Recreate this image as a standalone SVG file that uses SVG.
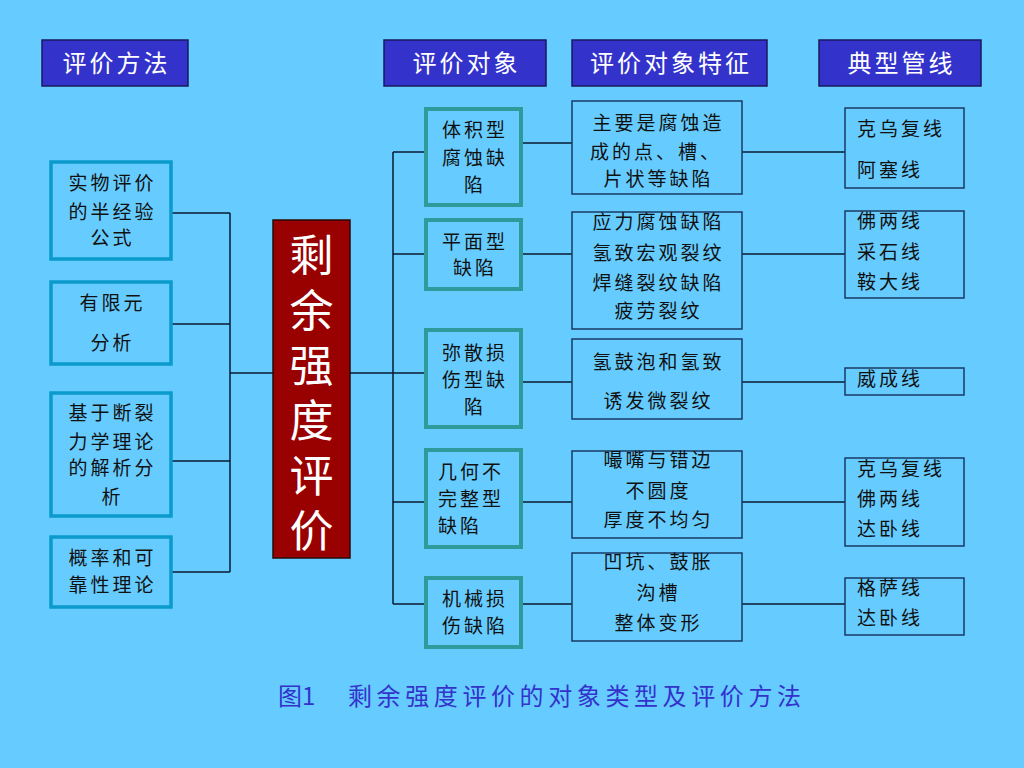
<svg xmlns="http://www.w3.org/2000/svg" width="1024" height="768" viewBox="0 0 1024 768">
<style>
text{font-family:"Noto Sans CJK SC","Noto Sans CJK JP",sans-serif;}
.hdr rect{fill:#3333CC;stroke:#1a1a5e;stroke-width:1.5;}
.hdr text{fill:#fff;font-size:24px;letter-spacing:3px;text-anchor:middle;}
.meth rect{fill:#66CCFF;stroke:#0a9bcc;stroke-width:3.5;}
.obj rect{fill:#66CCFF;stroke:#2f9a9a;stroke-width:4;}
.feat rect,.pipe rect{fill:#66CCFF;stroke:#1a3a66;stroke-width:1.5;}
.n text{fill:#111;font-size:19px;letter-spacing:3px;}
.c{text-anchor:middle;}
#conn path{fill:none;stroke:#0a1a33;stroke-width:1.5;}
</style>
<rect x="0" y="0" width="1024" height="768" fill="#66CCFF"/>

<g id="h1" class="hdr"><rect x="42" y="40" width="146" height="46"/><text x="116.5" y="72">评价方法</text></g>
<g id="h2" class="hdr"><rect x="384" y="40" width="162" height="46"/><text x="466.5" y="72">评价对象</text></g>
<g id="h3" class="hdr"><rect x="572" y="40" width="195" height="46"/><text x="671" y="72">评价对象特征</text></g>
<g id="h4" class="hdr"><rect x="819" y="40" width="162" height="46"/><text x="901.5" y="72">典型管线</text></g>

<g id="conn">
<path d="M171 213H230M171 324H230M171 461H230M171 572H230M230 213V572M230 373H273"/>
<path d="M350 373H393M393 152V604M393 152H426M393 254H426M393 373H426M393 502H426M393 604H426"/>
<path d="M521 143H572M521 254H572M521 382H572M521 502H572M521 604H572"/>
<path d="M742 152H845M742 254H845M742 382H845M742 502H845M742 604H845"/>
</g>

<g id="m1" class="n meth"><rect x="51" y="162" width="120" height="97"/>
<text class="c" x="112.5" y="190">实物评价</text><text class="c" x="112.5" y="219">的半经验</text><text class="c" x="112.5" y="245">公式</text></g>
<g id="m2" class="n meth"><rect x="51" y="282" width="120" height="82"/>
<text class="c" x="112.5" y="310">有限元</text><text class="c" x="112.5" y="350">分析</text></g>
<g id="m3" class="n meth"><rect x="51" y="393" width="120" height="123"/>
<text class="c" x="112.5" y="420">基于断裂</text><text class="c" x="112.5" y="449">力学理论</text><text class="c" x="112.5" y="475">的解析分</text><text class="c" x="112.5" y="504">析</text></g>
<g id="m4" class="n meth"><rect x="51" y="537" width="120" height="70"/>
<text class="c" x="112.5" y="565">概率和可</text><text class="c" x="112.5" y="592">靠性理论</text></g>

<g id="center"><rect x="273" y="220" width="77" height="338" fill="#990000" stroke="#2a0a0a" stroke-width="1.5"/>
<text x="311.5" y="233" fill="#fff" font-size="44" letter-spacing="11" writing-mode="vertical-rl">剩余强度评价</text></g>

<g id="o1" class="n obj"><rect x="426" y="109" width="95" height="96"/>
<text class="c" x="475" y="137">体积型</text><text class="c" x="475" y="165">腐蚀缺</text><text class="c" x="475" y="192">陷</text></g>
<g id="o2" class="n obj"><rect x="426" y="220" width="95" height="69"/>
<text class="c" x="475" y="249">平面型</text><text class="c" x="475" y="275">缺陷</text></g>
<g id="o3" class="n obj"><rect x="426" y="330" width="95" height="97"/>
<text class="c" x="475" y="360">弥散损</text><text class="c" x="475" y="387">伤型缺</text><text class="c" x="475" y="414">陷</text></g>
<g id="o4" class="n obj"><rect x="426" y="450" width="95" height="97"/>
<text x="438" y="479">几何不</text><text x="438" y="506">完整型</text><text x="438" y="533">缺陷</text></g>
<g id="o5" class="n obj"><rect x="426" y="578" width="95" height="69"/>
<text class="c" x="475" y="606">机械损</text><text class="c" x="475" y="633">伤缺陷</text></g>

<g id="f1" class="n feat"><rect x="572" y="101" width="170" height="93"/>
<text class="c" x="658.5" y="130">主要是腐蚀造</text><text x="590" y="159">成的点、槽、</text><text class="c" x="658.5" y="186">片状等缺陷</text></g>
<g id="f2" class="n feat"><rect x="572" y="212" width="170" height="117"/>
<text class="c" x="658.5" y="229">应力腐蚀缺陷</text><text class="c" x="658.5" y="260">氢致宏观裂纹</text><text class="c" x="658.5" y="290">焊缝裂纹缺陷</text><text class="c" x="658.5" y="318">疲劳裂纹</text></g>
<g id="f3" class="n feat"><rect x="572" y="339" width="170" height="80"/>
<text class="c" x="658.5" y="369">氢鼓泡和氢致</text><text class="c" x="658.5" y="408">诱发微裂纹</text></g>
<g id="f4" class="n feat"><rect x="572" y="451" width="170" height="87"/>
<text class="c" x="658.5" y="467">嘬嘴与错边</text><text class="c" x="658.5" y="498">不圆度</text><text class="c" x="658.5" y="527">厚度不均匀</text></g>
<g id="f5" class="n feat"><rect x="572" y="553" width="170" height="88"/>
<text class="c" x="658.5" y="569">凹坑、鼓胀</text><text class="c" x="658.5" y="600">沟槽</text><text class="c" x="658.5" y="630">整体变形</text></g>

<g id="p1" class="n pipe"><rect x="845" y="108" width="119" height="80"/>
<text x="857" y="136">克乌复线</text><text x="857" y="177">阿塞线</text></g>
<g id="p2" class="n pipe"><rect x="845" y="211" width="119" height="87"/>
<text x="857" y="228">佛两线</text><text x="857" y="259">采石线</text><text x="857" y="289">鞍大线</text></g>
<g id="p3" class="n pipe"><rect x="845" y="368" width="119" height="27"/>
<text x="857" y="386">威成线</text></g>
<g id="p4" class="n pipe"><rect x="845" y="458" width="119" height="88"/>
<text x="857" y="476">克乌复线</text><text x="857" y="506">佛两线</text><text x="857" y="536">达卧线</text></g>
<g id="p5" class="n pipe"><rect x="845" y="578" width="119" height="57"/>
<text x="857" y="595">格萨线</text><text x="857" y="625">达卧线</text></g>

<g id="caption" fill="#3333CC" font-size="24">
<text x="278" y="705">图1</text>
<text x="348" y="705" letter-spacing="4.6">剩余强度评价的对象类型及评价方法</text></g>
</svg>
